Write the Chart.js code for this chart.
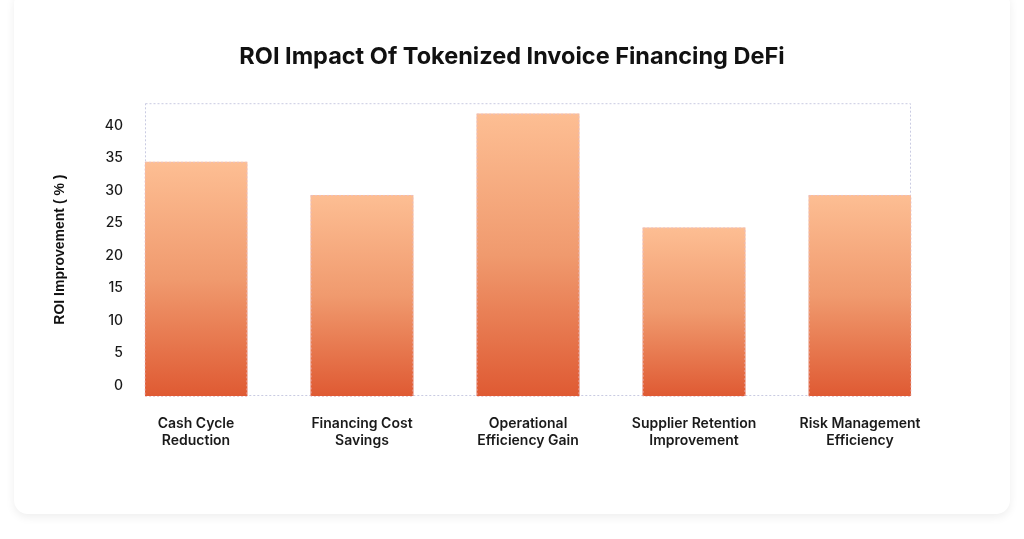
<!DOCTYPE html>
<html>
<head>
<meta charset="utf-8">
<script src="https://cdn.jsdelivr.net/npm/chart.js@4.4.1/dist/chart.umd.min.js"></script>
<style>
  html, body { margin: 0; padding: 0; background: #fff; }
  body { width: 1024px; height: 539px; position: relative; overflow: hidden; }
  .card {
    position: absolute; left: 14px; top: -10px; width: 996px; height: 524px;
    background: #fff; border-radius: 14px;
    box-shadow: 0 3px 10px rgba(0, 0, 0, 0.07);
  }
  #wrap { position: absolute; left: 0; top: 0; width: 1024px; height: 539px; }
</style>
</head>
<body>
<div class="card"></div>
<div id="wrap"><canvas id="roi-chart"></canvas></div>
<script>
const categories = [
  ["Cash Cycle", "Reduction"],
  ["Financing Cost", "Savings"],
  ["Operational", "Efficiency Gain"],
  ["Supplier Retention", "Improvement"],
  ["Risk Management", "Efficiency"]
];
const roiValues = [34.4, 29.3, 41.8, 24.3, 29.3];
const yTicks = [0, 5, 10, 15, 20, 25, 30, 35, 40];
const yMin = -1.6;
const yMax = 43.4;

function barGradient(context) {
  const chart = context.chart;
  const area = chart.chartArea;
  if (!area || !context.raw) return "#f09a6e";
  const top = chart.scales.y.getPixelForValue(context.raw.y);
  const g = chart.ctx.createLinearGradient(0, top, 0, area.bottom);
  g.addColorStop(0, "#fdbe93");
  g.addColorStop(0.5, "#f09a6e");
  g.addColorStop(1, "#df5a33");
  return g;
}

// dotted frame round the plot area and dotted edges on the bars
const dottedFrame = {
  id: "dottedFrame",
  beforeDatasetsDraw(chart) {
    const { ctx, chartArea: a } = chart;
    ctx.save();
    ctx.strokeStyle = "#c9cbe2";
    ctx.lineWidth = 1;
    ctx.setLineDash([2, 2]);
    ctx.strokeRect(a.left + 0.5, a.top + 0.5, a.right - a.left - 1, a.bottom - a.top - 1);
    ctx.restore();
  },
  afterDatasetsDraw(chart) {
    const { ctx } = chart;
    ctx.save();
    ctx.strokeStyle = "rgba(230, 190, 200, 0.8)";
    ctx.lineWidth = 1;
    ctx.setLineDash([2, 2]);
    chart.getDatasetMeta(0).data.forEach((bar) => {
      const p = bar.getProps(["x", "y", "base", "width"], true);
      const l = p.x - p.width / 2;
      ctx.strokeRect(l + 0.5, p.y + 0.5, p.width - 1, p.base - p.y);
    });
    ctx.restore();
  }
};

const ctx = document.getElementById("roi-chart").getContext("2d");
new Chart(ctx, {
  type: "bar",
  data: {
    datasets: [{
      label: "ROI Improvement (%)",
      data: roiValues.map((v, i) => ({ x: i, y: v })),
      backgroundColor: barGradient,
      base: yMin,
      barPercentage: 0.62,
      categoryPercentage: 1
    }]
  },
  options: {
    responsive: true,
    maintainAspectRatio: false,
    animation: false,
    layout: { padding: { left: 14, right: 14, top: 31, bottom: 0 } },
    plugins: {
      legend: { display: false },
      tooltip: { enabled: false },
      title: {
        display: true,
        text: "ROI Impact Of Tokenized Invoice Financing DeFi",
        color: "#111",
        font: { family: "Inter", size: 23.5, weight: "700" },
        padding: { top: 12, bottom: 32 }
      }
    },
    scales: {
      x: {
        type: "linear",
        offset: false,
        min: -0.307,
        max: 4.307,
        grid: { display: false },
        border: { display: false },
        afterBuildTicks: (axis) => { axis.ticks = categories.map((c, i) => ({ value: i })); },
        afterFit: (axis) => { axis.height = 143; },
        ticks: {
          color: "#1a1a1a",
          padding: 11,
          maxRotation: 0,
          autoSkip: false,
          font: { family: "Inter", size: 14, weight: "600", lineHeight: 1.25 },
          callback: (value) => categories[value]
        }
      },
      y: {
        min: yMin,
        max: yMax,
        grid: { display: false },
        border: { display: false },
        afterBuildTicks: (axis) => { axis.ticks = yTicks.map((v) => ({ value: v })); },
        afterFit: (axis) => { axis.width = 131; },
        ticks: {
          color: "#1a1a1a",
          padding: 14,
          font: { family: "Inter", size: 14, weight: "500" }
        },
        title: {
          display: true,
          text: "ROI Improvement ( % )",
          color: "#111",
          font: { family: "Liberation Sans", size: 14, weight: "700" },
          padding: { top: 38, bottom: 0 }
        }
      },
      // empty right-hand axis, only keeps the space right of the plot
      spacer: {
        type: "linear",
        position: "right",
        display: true,
        grid: { display: false },
        border: { display: false },
        ticks: { display: false },
        afterFit: (axis) => { axis.width = 99; }
      }
    }
  },
  plugins: [dottedFrame]
});
</script>
</body>
</html>
